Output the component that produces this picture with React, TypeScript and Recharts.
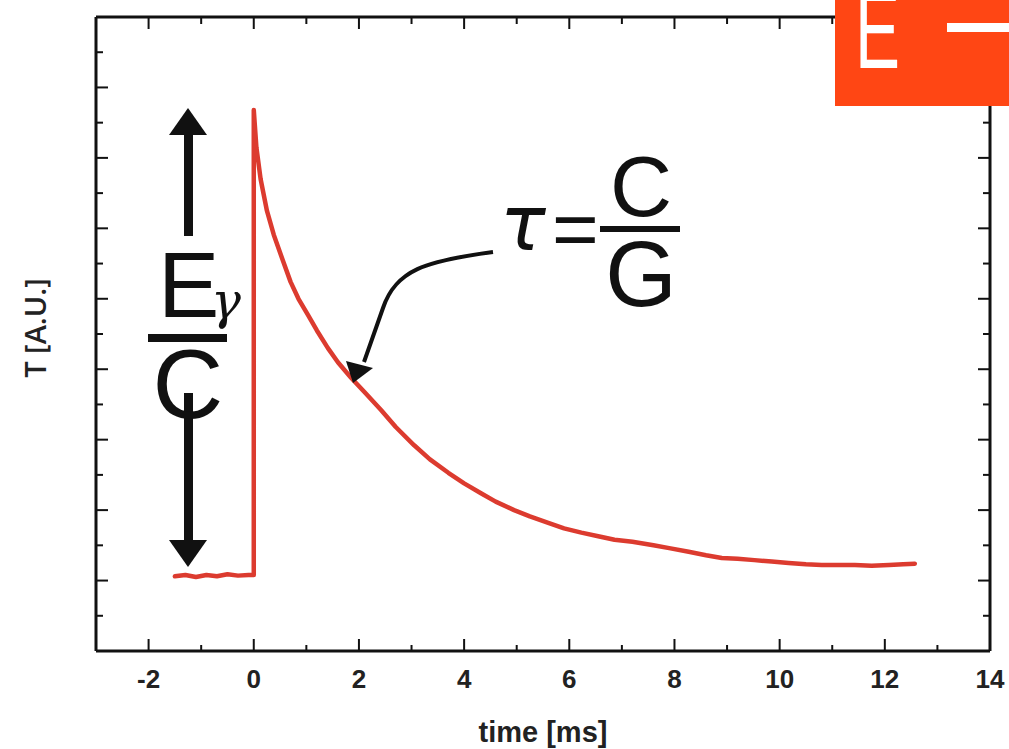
import React from "react";
import { LineChart, Line, XAxis, YAxis } from "recharts";

// ---- data ----
const times: number[] = [
  -1.5, -1.3, -1.1, -0.9, -0.7, -0.5, -0.3, -0.1, 0,
  0, 0.05, 0.13, 0.25, 0.38, 0.55, 0.7, 0.85, 1.03, 1.2, 1.41, 1.6, 1.85, 2.1, 2.42,
  2.7, 3.05, 3.35, 3.7, 4.0, 4.32, 4.6, 4.95, 5.25, 5.6, 5.9, 6.23, 6.55, 6.86, 7.2,
  7.6, 7.9, 8.27, 8.6, 8.9, 9.2, 9.52, 9.85, 10.17, 10.5, 10.8, 11.1, 11.43, 11.75,
  12.08, 12.35, 12.57,
];
const temps: number[] = [
  1.06, 1.08, 1.05, 1.08, 1.06, 1.09, 1.07, 1.08, 1.08,
  7.68, 7.15, 6.7, 6.25, 5.91, 5.55, 5.24, 5.0, 4.77, 4.55, 4.3, 4.1, 3.88, 3.68, 3.42,
  3.18, 2.92, 2.72, 2.53, 2.38, 2.24, 2.12, 2.0, 1.91, 1.82, 1.74, 1.68, 1.63, 1.58, 1.55,
  1.5, 1.46, 1.41, 1.36, 1.32, 1.31, 1.29, 1.27, 1.25, 1.23, 1.22, 1.22, 1.22, 1.21,
  1.22, 1.23, 1.24,
];
const xTicks: number[] = [-2, -1, 0, 1, 2, 3, 4, 5, 6, 7, 8, 9, 10, 11, 12, 13, 14];
const yTicks: number[] = [0.5, 1, 1.5, 2, 2.5, 3, 3.5, 4, 4.5, 5, 5.5, 6, 6.5, 7, 7.5, 8, 8.5];
const xLabel = "time [ms]";
const yLabel = "T [A.U.]";

const data = times.map((t, i) => ({ t, v: temps[i] }));

const W = 1009;
const H = 749;
const MARGIN = { top: 0, right: 0, bottom: 0, left: 0 };
const TOP_H = 17;
const RIGHT_W = 19;
const LEFT_W = 96;
const BOTTOM_H = 98;

const isMajor = (v: number) => Math.abs(v - Math.round(v)) < 1e-6 && Math.round(v) % 2 === 0;
const isMajorY = (v: number) => Math.abs(v - Math.round(v)) < 1e-6;

const BottomTick = (p: any) => {
  const major = isMajor(p.payload.value);
  return (
    <g>
      <line x1={p.x} x2={p.x} y1={p.y} y2={p.y - (major ? 12 : 6)} stroke="#111" strokeWidth={2} />
      {major && (
        <text x={p.x} y={p.y + 37} textAnchor="middle" fontFamily="'Liberation Sans', Arial, sans-serif"
          fontWeight="bold" fontSize={26} fill="#222">{p.payload.value}</text>
      )}
    </g>
  );
};
const TopTick = (p: any) => {
  const major = isMajor(p.payload.value);
  return <line x1={p.x} x2={p.x} y1={p.y} y2={p.y + (major ? 12 : 7)} stroke="#111" strokeWidth={2} />;
};
const LeftTick = (p: any) => {
  const major = isMajorY(p.payload.value);
  return <line x1={p.x} x2={p.x + (major ? 12 : 7)} y1={p.y} y2={p.y} stroke="#111" strokeWidth={2} />;
};
const RightTick = (p: any) => {
  const major = isMajorY(p.payload.value);
  return <line x1={p.x} x2={p.x - (major ? 12 : 7)} y1={p.y} y2={p.y} stroke="#111" strokeWidth={2} />;
};

const Overlay = () => (
  <svg width={W} height={H} style={{ position: "absolute", left: 0, top: 0, pointerEvents: "none" }}>
    {/* axis titles */}
    <text x={543} y={742} textAnchor="middle" fontFamily="'Liberation Sans', Arial, sans-serif"
      fontWeight="bold" fontSize={29} fill="#222">{xLabel}</text>
    <text x={0} y={0} transform="translate(46,328) rotate(-90)" textAnchor="middle"
      fontFamily="'Open Sans', sans-serif" fontWeight={600} fontSize={29} fill="#222">{yLabel}</text>

    {/* E_gamma / C with arrows */}
    <rect x={184} y={130} width={9} height={106} fill="#111" />
    <polygon points="188,108 207,135 169,135" fill="#111" />
    <rect x={184} y={393} width={9} height={150} fill="#111" />
    <polygon points="169,540 207,540 188,567" fill="#111" />
    <text x={158} y={317} fontFamily="'Liberation Sans', Arial, sans-serif" fontSize={92} fill="#111">E</text>
    <text x={211} y={318} fontFamily="'DejaVu Serif', serif" fontStyle="italic" fontSize={50} fill="#111">γ</text>
    <rect x={148} y={334} width={79} height={8} fill="#111" />
    <text x={188} y={418} textAnchor="middle" fontFamily="'Liberation Sans', Arial, sans-serif" fontSize={98} fill="#111">C</text>

    {/* tau = C/G */}
    <text x={500} y={250} fontFamily="'DejaVu Sans', sans-serif" fontStyle="italic" fontSize={76} fill="#111">τ</text>
    <text x={552} y={256} fontFamily="'Liberation Sans', Arial, sans-serif" fontSize={80} fill="#111">=</text>
    <rect x={600} y={226} width={80} height={6} fill="#111" />
    <text x={641} y={216} textAnchor="middle" fontFamily="'Liberation Sans', Arial, sans-serif" fontSize={86} fill="#111">C</text>
    <text x={641} y={306} textAnchor="middle" fontFamily="'Liberation Sans', Arial, sans-serif" fontSize={92} fill="#111">G</text>
    <path d="M493,252 C425,261 396,270 383,308 L364,362" fill="none" stroke="#111" strokeWidth={4} />
    <polygon points="353,383 346,361 373,368" fill="#111" />

    {/* orange badge */}
    <rect x={835} y={0} width={174} height={106} fill="#ff4614" />
    <text x={855} y={68} fontFamily="'Liberation Sans', Arial, sans-serif" fontSize={110} fill="#fff"
      textLength={45} lengthAdjust="spacingAndGlyphs">E</text>
    <rect x={947} y={23} width={62} height={9} fill="#fff" />
  </svg>
);

export default function App() {
  return (
    <div style={{ position: "absolute", left: 0, top: 0, width: W, height: H, background: "#fff" }}>
      <LineChart width={W} height={H} data={data} margin={MARGIN}>
        <XAxis xAxisId="b" dataKey="t" type="number" domain={[-3, 14]} allowDataOverflow ticks={xTicks}
          interval={0} height={BOTTOM_H} tickSize={0} tickMargin={0} tickLine={false}
          axisLine={{ stroke: "#111", strokeWidth: 3 }} tick={<BottomTick />} />
        <XAxis xAxisId="t" dataKey="t" type="number" orientation="top" domain={[-3, 14]} allowDataOverflow
          ticks={xTicks} interval={0} height={TOP_H} tickSize={0} tickMargin={0} tickLine={false}
          axisLine={{ stroke: "#111", strokeWidth: 3 }} tick={<TopTick />} />
        <YAxis yAxisId="l" type="number" domain={[0, 9]} allowDataOverflow ticks={yTicks} interval={0}
          width={LEFT_W} tickSize={0} tickMargin={0} tickLine={false}
          axisLine={{ stroke: "#111", strokeWidth: 3 }} tick={<LeftTick />} />
        <YAxis yAxisId="r" type="number" orientation="right" domain={[0, 9]} allowDataOverflow ticks={yTicks}
          interval={0} width={RIGHT_W} tickSize={0} tickMargin={0} tickLine={false}
          axisLine={{ stroke: "#111", strokeWidth: 3 }} tick={<RightTick />} />
        <Line xAxisId="b" yAxisId="l" type="linear" dataKey="v" stroke="#dc3b2f" strokeWidth={4.5}
          dot={false} isAnimationActive={false} strokeLinejoin="round" strokeLinecap="round" />
      </LineChart>
      <Overlay />
    </div>
  );
}
